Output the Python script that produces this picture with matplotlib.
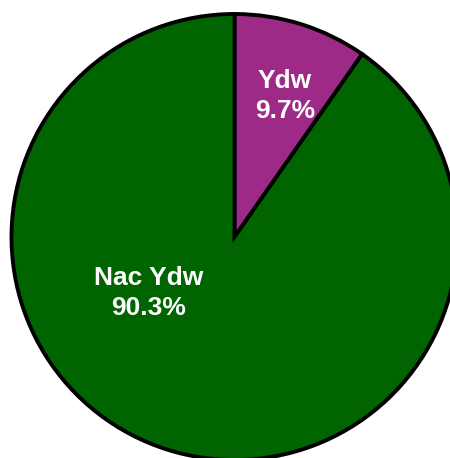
import matplotlib
matplotlib.use("Agg")
import matplotlib.pyplot as plt

labels = ["Ydw", "Nac Ydw"]
shares = [9.7, 90.3]
colors = ["#9c2a86", "#006400"]

W, H = 450, 458
fig = plt.figure(figsize=(W / 100, H / 100), dpi=100)
ax = fig.add_axes([0, 0, 1, 1])

cx, cy, r = 234.5, H - 237, 223
ax.pie(shares, colors=colors, startangle=90, counterclock=False,
       center=(cx, cy), radius=r, frame=True,
       wedgeprops=dict(edgecolor="black", linewidth=2.8))
ax.set_xlim(0, W)
ax.set_ylim(0, H)
ax.axis("off")

label_pos = [(285, H - 96), (149, H - 293)]
for lab, val, (x, y) in zip(labels, shares, label_pos):
    ax.text(x, y, f"{lab}\n{val:.1f}%", ha="center", va="center",
            color="white", fontsize=19, fontweight="bold",
            family="Liberation Sans", linespacing=1.3)

fig.savefig("out.png", dpi=100)
